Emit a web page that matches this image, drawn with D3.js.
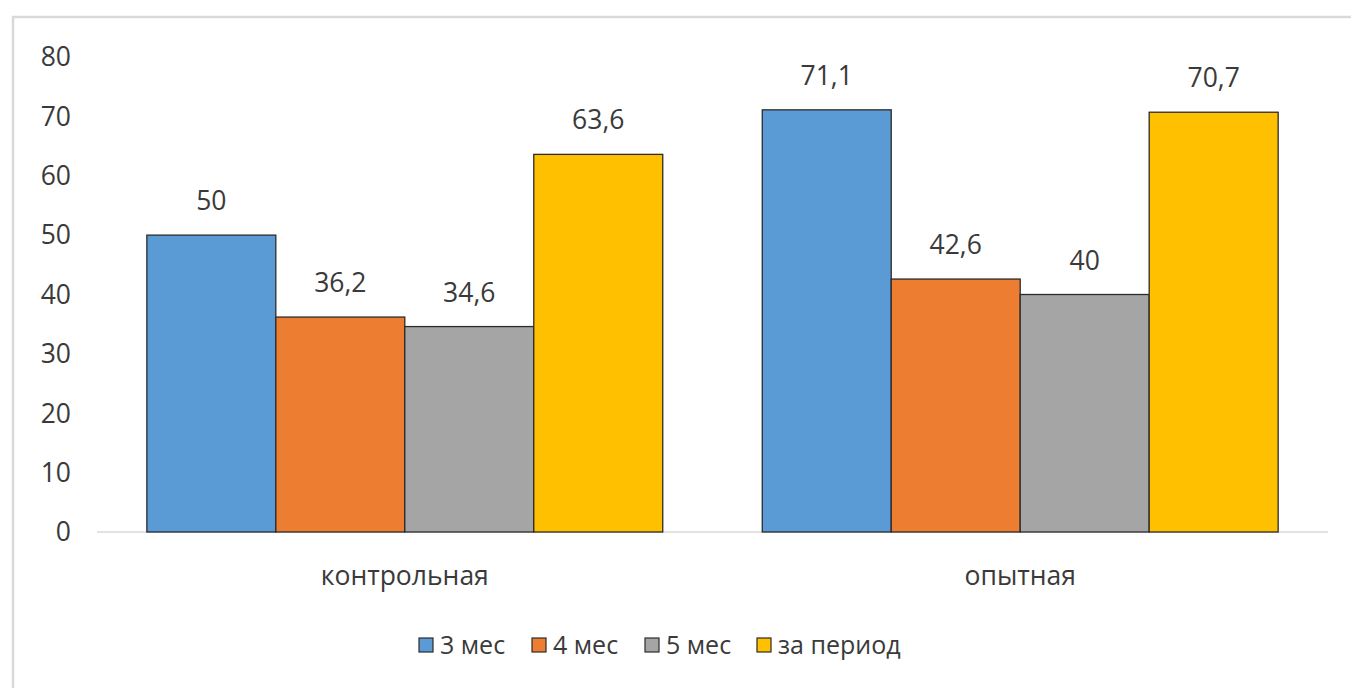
<!DOCTYPE html>
<html>
<head>
<meta charset="utf-8">
<script src="https://cdn.jsdelivr.net/npm/d3@7"></script>
<style>
  body { margin: 0; background: #fff; }
  svg { display: block; font-family: "Open Sans", "Noto Sans", sans-serif; }
  .tick-label, .val, .cat, .leg { fill: #3a3a3a; }
</style>
</head>
<body>
<svg width="1351" height="688"></svg>
<script>
// chart data
var groups = ["контрольная", "опытная"];
var seriesNames = ["3 мес", "4 мес", "5 мес", "за период"];
var seriesColors = ["#5b9bd5", "#ed7d31", "#a5a5a5", "#ffc000"];
var values3 = [50, 71.1];
var values4 = [36.2, 42.6];
var values5 = [34.6, 40];
var valuesPeriod = [63.6, 70.7];
var yTicks = [0, 10, 20, 30, 40, 50, 60, 70, 80];

var svg = d3.select("svg"),
  width = +svg.attr("width"),
  height = +svg.attr("height"),
  fontSize = "26.5px";

var allSeries = [values3, values4, values5, valuesPeriod];
var fmt = function (v) { return String(v).replace(".", ","); };

// outer frame (right and bottom edges run off the picture)
svg.append("rect")
  .attr("x", 13).attr("y", 17)
  .attr("width", width + 20).attr("height", height + 20)
  .attr("fill", "none")
  .attr("stroke", "#d9d9d9")
  .attr("stroke-width", 2.5);

var x0 = d3.scaleBand()
  .domain(groups)
  .range([97, 1328])
  .paddingInner(0.1617)
  .paddingOuter(0.081);

var x1 = d3.scaleBand()
  .domain(d3.range(seriesNames.length))
  .range([0, x0.bandwidth()]);

var y = d3.scaleLinear().domain([0, 80]).range([532, 57]);

// y tick labels
svg.append("g")
  .selectAll("text")
  .data(yTicks)
  .enter()
  .append("text")
  .attr("class", "tick-label")
  .attr("x", 71)
  .attr("y", function (d) { return y(d); })
  .attr("dy", "0.35em")
  .attr("text-anchor", "end")
  .style("font-size", fontSize)
  .text(function (d) { return d; });

// baseline
svg.append("line")
  .attr("x1", 97).attr("x2", 1328)
  .attr("y1", y(0)).attr("y2", y(0))
  .attr("stroke", "#d9d9d9")
  .attr("stroke-width", 1.5);

// bars
var g = svg.append("g")
  .selectAll("g")
  .data(groups)
  .enter()
  .append("g")
  .attr("transform", function (d) { return "translate(" + x0(d) + ",0)"; });

g.selectAll("rect")
  .data(function (d, gi) {
    return allSeries.map(function (s, si) { return { si: si, v: s[gi] }; });
  })
  .enter()
  .append("rect")
  .attr("x", function (d) { return x1(d.si); })
  .attr("y", function (d) { return y(d.v); })
  .attr("width", x1.bandwidth())
  .attr("height", function (d) { return y(0) - y(d.v); })
  .attr("fill", function (d) { return seriesColors[d.si]; })
  .attr("stroke", "#2b2b2b")
  .attr("stroke-width", 1.3);

// value labels
g.selectAll("text")
  .data(function (d, gi) {
    return allSeries.map(function (s, si) { return { si: si, v: s[gi] }; });
  })
  .enter()
  .append("text")
  .attr("class", "val")
  .attr("x", function (d) { return x1(d.si) + x1.bandwidth() / 2; })
  .attr("y", function (d) { return y(d.v) - 25; })
  .attr("text-anchor", "middle")
  .style("font-size", fontSize)
  .text(function (d) { return fmt(d.v); });

// category labels
svg.append("g")
  .selectAll("text")
  .data(groups)
  .enter()
  .append("text")
  .attr("class", "cat")
  .attr("x", function (d) { return x0(d) + x0.bandwidth() / 2; })
  .attr("y", 585)
  .attr("text-anchor", "middle")
  .style("font-size", fontSize)
  .text(function (d) { return d; });

// legend
var legendX = [419, 532, 645, 757];
var leg = svg.append("g")
  .selectAll("g")
  .data(seriesNames)
  .enter()
  .append("g")
  .attr("transform", function (d, i) { return "translate(" + legendX[i] + ",645)"; });

leg.append("rect")
  .attr("x", 0).attr("y", -7)
  .attr("width", 14).attr("height", 14)
  .attr("fill", function (d, i) { return seriesColors[i]; })
  .attr("stroke", "#2b2b2b")
  .attr("stroke-width", 1.2);

leg.append("text")
  .attr("class", "leg")
  .attr("x", 21)
  .attr("dy", "0.35em")
  .style("font-size", "25px")
  .text(function (d) { return d; });
</script>
</body>
</html>
